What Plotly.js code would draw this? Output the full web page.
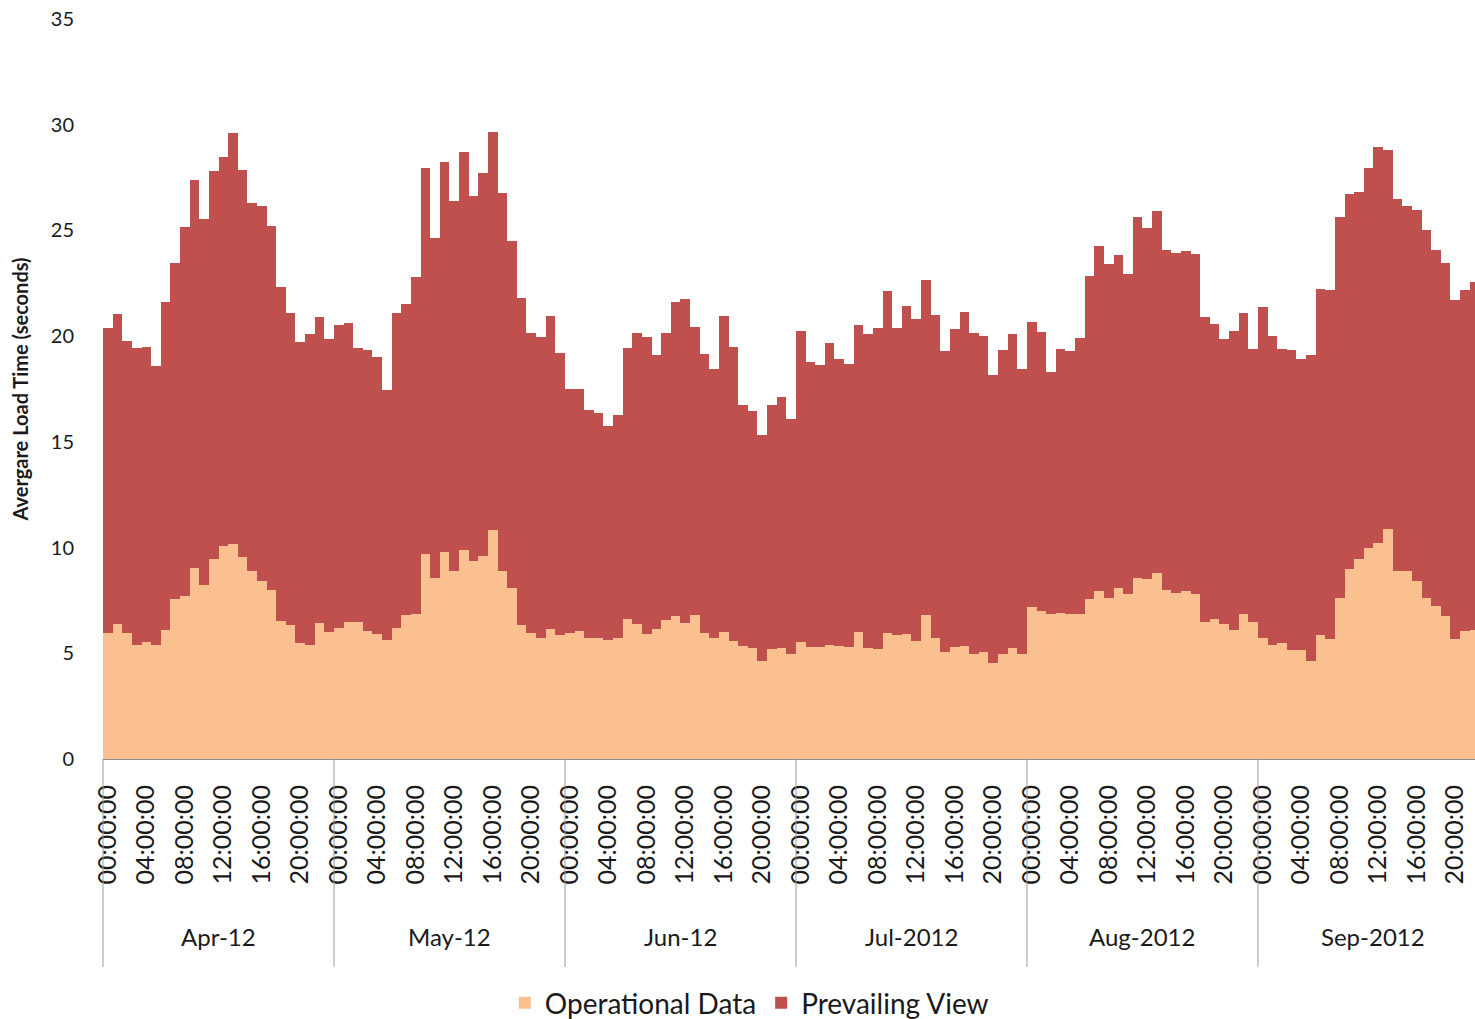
<!DOCTYPE html>
<html><head><meta charset="utf-8">
<script src="https://cdn.plot.ly/plotly-3.0.1.min.js"></script>
<style>html,body{margin:0;padding:0;background:#fff}</style>
</head><body><div id="chart" style="width:1475px;height:1019px"></div>
<script>
const months = ["Apr-12", "May-12", "Jun-12", "Jul-2012", "Aug-2012", "Sep-2012"];
const hours = ["00:00:00","01:00:00","02:00:00","03:00:00","04:00:00","05:00:00","06:00:00","07:00:00",
               "08:00:00","09:00:00","10:00:00","11:00:00","12:00:00","13:00:00","14:00:00","15:00:00",
               "16:00:00","17:00:00","18:00:00","19:00:00","20:00:00","21:00:00","22:00:00","23:00:00"];

// Operational Data (seconds)
const opApr = [5.96,6.39,5.96,5.39,5.53,5.39,6.10,7.57,7.71,9.03,8.23,9.46,10.07,10.17,9.55,8.89,8.42,7.99,6.53,6.34,5.49,5.39,6.43,6.01];
const opMay = [6.20,6.48,6.48,6.05,5.91,5.63,6.20,6.81,6.86,9.70,8.56,9.79,8.89,9.88,9.36,9.60,10.83,8.89,8.09,6.34,5.96,5.72,6.15,5.86];
const opJun = [5.96,6.05,5.72,5.72,5.63,5.72,6.62,6.39,5.91,6.15,6.57,6.76,6.43,6.81,5.96,5.72,6.01,5.58,5.34,5.25,4.63,5.20,5.25,4.97];
const opJul = [5.53,5.30,5.30,5.39,5.34,5.30,6.01,5.25,5.20,5.96,5.86,5.91,5.58,6.81,5.72,5.06,5.30,5.34,4.97,5.06,4.54,4.97,5.25,4.97];
const opAug = [7.19,7.00,6.86,6.91,6.86,6.86,7.57,7.95,7.62,8.09,7.80,8.56,8.51,8.80,7.99,7.85,7.95,7.80,6.48,6.62,6.39,6.10,6.86,6.48];
const opSep = [5.72,5.39,5.49,5.16,5.16,4.63,5.86,5.68,7.62,8.99,9.46,9.98,10.22,10.88,8.89,8.89,8.42,7.62,7.24,6.76,5.68,6.05,6.10];

// Prevailing View (seconds, stacked on top)
const pvApr = [14.44,14.66,13.81,14.05,13.96,13.21,15.51,15.91,17.45,18.36,17.31,18.35,18.40,19.44,18.31,17.41,17.75,17.22,15.79,14.75,14.25,14.71,14.47,13.85];
const pvMay = [14.33,14.14,12.96,13.29,13.10,11.82,14.89,14.71,15.94,18.26,16.08,18.45,17.50,18.83,17.27,18.12,18.83,17.88,16.41,15.46,14.19,14.24,14.80,13.34];
const pvJun = [11.54,11.45,10.79,10.65,10.12,10.55,12.82,13.76,14.05,12.96,13.58,14.85,15.33,13.62,13.20,12.73,14.94,13.91,11.40,11.21,10.69,11.54,11.87,11.11];
const pvJul = [14.71,13.48,13.34,14.29,13.58,13.38,14.52,14.85,15.18,16.17,14.52,15.51,15.23,15.85,15.28,14.24,15.04,15.80,15.18,14.95,13.62,14.37,14.85,13.48];
const pvAug = [13.48,13.20,11.44,12.48,12.44,13.05,15.27,16.31,15.79,15.75,15.14,17.08,16.61,17.12,16.08,16.08,16.08,16.08,14.42,13.95,13.47,14.14,14.23,12.91];
const pvSep = [15.66,14.62,13.90,14.18,13.76,14.48,16.37,16.50,18.02,17.73,17.36,17.98,18.73,17.93,17.60,17.26,17.55,17.40,16.83,16.70,16.03,16.13,16.46];

const yTicks = [0, 5, 10, 15, 20, 25, 30, 35];

const operational = [].concat(opApr, opMay, opJun, opJul, opAug, opSep);
const prevailing = [].concat(pvApr, pvMay, pvJun, pvJul, pvAug, pvSep);
const xIdx = operational.map((_, i) => i);
const hoverText = xIdx.map(i => months[Math.floor(i / 24)] + ' ' + hours[i % 24]);

const tickvals = [], ticktext = [];
for (let m = 0; m < months.length; m++) {
  for (let h = 0; h < 24; h += 4) {
    const v = m * 24 + h;
    if (v < operational.length) { tickvals.push(v); ticktext.push(hours[h]); }
  }
}

const xMin = -0.5, xMax = 142.05;
const FONT = "Lato, 'Open Sans', sans-serif";

const shapes = [], annotations = [];
for (let m = 0; m < months.length; m++) {
  const px = (m * 24 - 0.5 - xMin) / (xMax - xMin);
  shapes.push({type: 'line', xref: 'paper', yref: 'paper', x0: px, x1: px, y0: 0, y1: -0.281,
               line: {color: '#9a9a9a', width: 1}});
  annotations.push({x: m * 24 + 11.5, xref: 'x', y: -0.2405, yref: 'paper', text: months[m],
                    showarrow: false, xanchor: 'center', yanchor: 'middle',
                    font: {family: FONT, size: 24, color: '#1a1a1a'}});
}

const traces = [
  {type: 'bar', name: 'Operational Data', x: xIdx, y: operational, text: hoverText, textposition: 'none',
   hovertemplate: '%{text}<br>%{y}<extra>Operational Data</extra>',
   marker: {color: '#FAC090', line: {width: 0}}},
  {type: 'bar', name: 'Prevailing View', x: xIdx, y: prevailing, text: hoverText, textposition: 'none',
   hovertemplate: '%{text}<br>%{y}<extra>Prevailing View</extra>',
   marker: {color: '#C0504D', line: {width: 0}}}
];

const layout = {
  width: 1475, height: 1019,
  margin: {l: 103, r: 0, t: 19, b: 260, pad: 0},
  paper_bgcolor: '#fff', plot_bgcolor: '#fff',
  barmode: 'stack', bargap: 0,
  font: {family: FONT, color: '#1a1a1a'},
  showlegend: true,
  legend: {orientation: 'h', xref: 'container', yref: 'container', x: 0.508, y: 0.0157,
           xanchor: 'center', yanchor: 'middle', traceorder: 'normal',
           font: {family: FONT, size: 28, color: '#1a1a1a'}},
  xaxis: {range: [xMin, xMax], tickmode: 'array', tickvals: tickvals, ticktext: ticktext,
          tickangle: -90, tickfont: {family: FONT, size: 25, color: '#1a1a1a'},
          ticks: 'outside', ticklen: 15, tickcolor: 'rgba(0,0,0,0)',
          showline: true, linecolor: '#8c8c8c', linewidth: 1, showgrid: false, zeroline: false,
          fixedrange: true},
  yaxis: {range: [0, 35], tickmode: 'array', tickvals: yTicks, showgrid: false, zeroline: false,
          showline: false, ticks: 'outside', ticklen: 24, tickcolor: 'rgba(0,0,0,0)',
          tickfont: {family: FONT, size: 20, color: '#1a1a1a'},
          title: {text: 'Avergare Load Time (seconds)', standoff: 16,
                  font: {family: FONT, size: 20, weight: 'bold', color: '#1a1a1a'}},
          fixedrange: true},
  shapes: shapes,
  annotations: annotations
};

Plotly.newPlot('chart', traces, layout, {displayModeBar: false, staticPlot: false});
</script>
</body></html>
